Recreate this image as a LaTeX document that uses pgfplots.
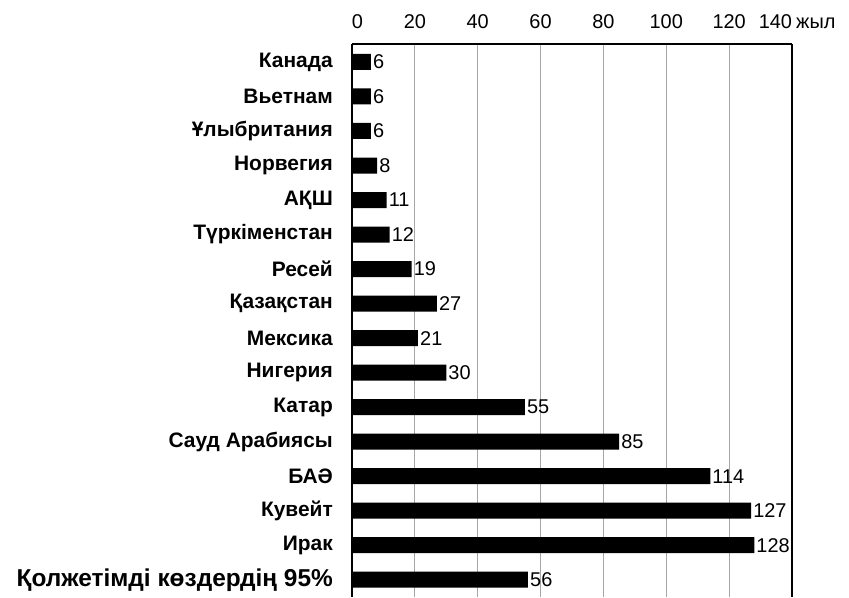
\documentclass[border=0pt]{standalone}
\usepackage{fontspec}
\setmainfont{Liberation Sans}
\usepackage{pgfplots}
\pgfplotsset{compat=1.18}
\usepackage{pgfplotstable}
\pgfplotstableread[col sep=comma]{
idx,val
0,6
1,6
2,6
3,8
4,11
5,12
6,19
7,27
8,21
9,30
10,55
11,85
12,114
13,127
14,128
15,56
}\datatable
\begin{document}
\begin{tikzpicture}
\begin{axis}[
  scale only axis,
  width=440bp, height=553bp,
  xbar, bar width=16bp,
  xmin=0, xmax=140,
  ymin=-0.52, ymax=15.5,
  y dir=reverse,
  axis x line*=top,
  axis y line*=box,
  axis line style={line width=1.6bp, black},
  xtick={0,20,40,60,80,100,120,140},
  xticklabels={\rlap{0},20,40,60,80,100,120,\llap{140}},
  xticklabel style={font=\fontsize{20}{24}\selectfont, anchor=south, inner sep=0pt},
  xticklabel shift=15bp,
  ytick={0,...,15},
  yticklabels={Канада,Вьетнам,Ұлыбритания,Норвегия,АҚШ,Түркіменстан,Ресей,Қазақстан,Мексика,Нигерия,Катар,Сауд Арабиясы,БАӘ,Кувейт,Ирак,{\bfseries\fontsize{24.5}{28}\selectfont Қолжетімді көздердің 95\%}},
  yticklabel style={font=\bfseries\fontsize{21}{25}\selectfont, anchor=east, inner sep=0pt},
  yticklabel shift=19bp,
  major tick length=0pt,
  xmajorgrids,
  major grid style={gray!70, line width=0.8bp},
  nodes near coords,
  /pgf/number format/assume math mode=true,
  nodes near coords style={font=\fontsize{20}{24}\selectfont, anchor=west, inner sep=2bp, black},
  clip=false,
]
\addplot[fill=black, draw=none] table[x=val, y=idx] {\datatable};
\node[anchor=south west, inner sep=0pt, font=\fontsize{20}{24}\selectfont] at ([xshift=4bp, yshift=15bp]rel axis cs:1,1) {жыл};
\path ([xshift=-352bp, yshift=44bp]rel axis cs:0,1) -- ([xshift=57bp, yshift=44bp]rel axis cs:1,1);
\end{axis}
\end{tikzpicture}
\end{document}
